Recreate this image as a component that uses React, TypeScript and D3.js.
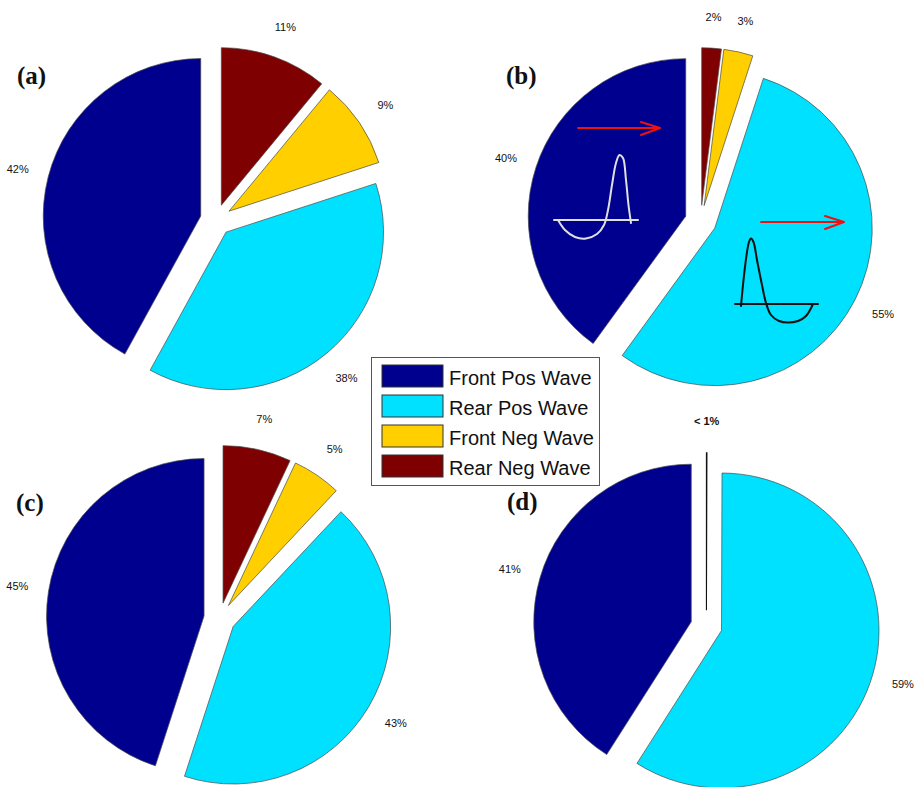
import React from "react";
import * as d3 from "d3";

// ---- data ----
const categories = ["Front Pos Wave", "Rear Pos Wave", "Front Neg Wave", "Rear Neg Wave"];
const panelLabels = ["(a)", "(b)", "(c)", "(d)"];
const frontPos = [42, 40, 45, 41];
const rearPos = [38, 55, 43, 59];
const frontNeg = [9, 3, 5, 0.05];
const rearNeg = [11, 2, 7, 0];

const colors = ["#00008F", "#00E0FF", "#FFCF00", "#7F0000"];

// ---- layout ----
const W = 916, H = 787;
const R = 157.5;
const EXPLODE = 0.1 * R;
const centers: [number, number][] = [[216, 220], [700.7, 221], [219.6, 618.5], [706.4, 626.1]];
const labelPos: [number, number][] = [[17, 84], [506, 84], [16, 511], [507, 510]];

// annotation sketches in panel (b)
const whiteWave: [number, number][] = [[558, 220], [565, 230], [575, 237], [586, 238.5], [597, 234], [604, 225], [608, 210], [612, 185], [616, 163], [619.5, 155], [623, 158], [626, 180], [628.5, 205], [631, 223]];
const blackWave: [number, number][] = [[741, 306], [743, 285], [746, 259], [749, 242], [751, 238.5], [753.5, 242], [757, 260], [762, 285], [766, 303], [771, 315], [779, 321], [788, 322.5], [798, 321], [806, 316], [813, 304]];

export default function App() {
  const pie = d3.pie<number>().sort(null).value(d => d).startAngle(0).endAngle(-2 * Math.PI);
  const arc = d3.arc<d3.PieArcDatum<number>>().innerRadius(0).outerRadius(R);
  const line = d3.line().curve(d3.curveCatmullRom.alpha(0.5));

  const panels = frontPos.map((_, i) => [frontPos[i], rearPos[i], frontNeg[i], rearNeg[i]]);

  return (
    <svg width={W} height={H} style={{ position: "absolute", left: 0, top: 0, background: "#fff" }}>
      {panels.map((vals, p) => {
        const total = d3.sum(vals);
        const arcs = pie(vals);
        const [cx, cy] = centers[p];
        return (
          <g key={p}>
            {arcs.map((a, k) => {
              if (a.value <= 0) return null;
              const mid = (a.startAngle + a.endAngle) / 2;
              const dx = Math.sin(mid), dy = -Math.cos(mid);
              const ox = cx + EXPLODE * dx, oy = cy + EXPLODE * dy;
              const pct = (a.value / total) * 100;
              const txt = pct < 1 ? "< 1%" : `${Math.round(pct)}%`;
              const tiny = pct < 1;
              return (
                <g key={k}>
                  <path d={arc(a) || ""} transform={`translate(${ox},${oy})`} fill={colors[k]}
                    stroke={tiny ? "#111" : "#4a4a4a"} strokeWidth={tiny ? 1.1 : 0.7} strokeLinejoin="miter" />
                  <text x={ox + 1.2 * R * dx} y={oy + 1.2 * R * dy} textAnchor="middle" dominantBaseline="central"
                    fontFamily="'Liberation Sans', Arial, sans-serif" fontSize={11}
                    fontWeight={tiny ? "bold" : "normal"} fill="#111">{txt}</text>
                </g>
              );
            })}
            <text x={labelPos[p][0]} y={labelPos[p][1]} fontFamily="'Liberation Serif', 'Times New Roman', serif"
              fontWeight="bold" fontSize={25} fill="#111">{panelLabels[p]}</text>
          </g>
        );
      })}

      {/* annotations in (b) */}
      <g fill="none" strokeLinecap="round" strokeLinejoin="round">
        <line x1={554} y1={220} x2={638} y2={220} stroke="#e0e0e0" strokeWidth={2} />
        <path d={line(whiteWave) || ""} stroke="#e0e0e0" strokeWidth={2} />
        <line x1={735} y1={304} x2={818} y2={304} stroke="#111" strokeWidth={2} />
        <path d={line(blackWave) || ""} stroke="#111" strokeWidth={2} />
        <line x1={578} y1={128} x2={659} y2={128} stroke="#ee1111" strokeWidth={2} />
        <path d="M641,122 L660,128 L641,135" stroke="#ee1111" strokeWidth={2} />
        <line x1={761} y1={222} x2={843} y2={222} stroke="#ee1111" strokeWidth={2} />
        <path d="M825,216 L844,222 L825,229" stroke="#ee1111" strokeWidth={2} />
      </g>

      {/* legend */}
      <g>
        <rect x={371.5} y={357.5} width={228} height={128} fill="#fff" stroke="#555" strokeWidth={1} />
        {categories.map((c, i) => (
          <g key={c} transform={`translate(0,${i * 30})`}>
            <rect x={382} y={365} width={61} height={22} fill={colors[i]} stroke="#333" strokeWidth={1} />
            <text x={449} y={384.5} fontFamily="'Liberation Sans', Arial, sans-serif" fontSize={20} fill="#111">{c}</text>
          </g>
        ))}
      </g>
    </svg>
  );
}
